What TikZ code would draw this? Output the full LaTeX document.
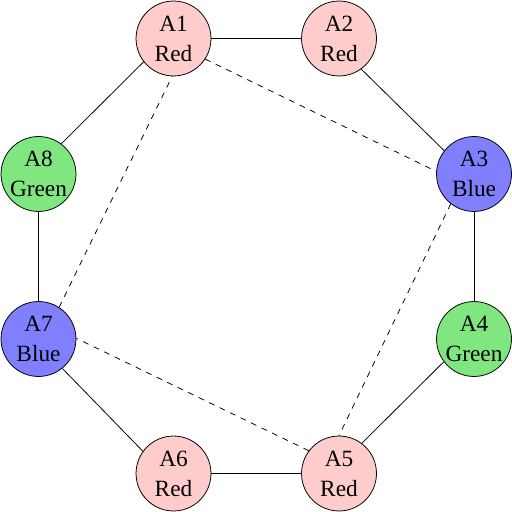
\documentclass[tikz,border=0pt]{standalone}
\usepackage{fontspec}
\setmainfont{Liberation Serif}
\definecolor{nodered}{RGB}{255,204,204}
\definecolor{nodegreen}{RGB}{128,230,128}
\definecolor{nodeblue}{RGB}{128,128,255}

\begin{document}
\begin{tikzpicture}[x=0.515pt,y=-0.515pt,
    vertex/.style={circle,draw,minimum size=38.6pt,inner sep=0pt,align=center,font=\fontsize{12}{15.5}\selectfont},
    red/.style={vertex,fill=nodered},
    green/.style={vertex,fill=nodegreen},
    blue/.style={vertex,fill=nodeblue}]
      \useasboundingbox (0,0) rectangle (512,512);
      \node[red]   (a1) at (173.5,38.5) {A1\\Red};
      \node[red]   (a2) at (339,38.5)   {A2\\Red};
      \node[blue]  (a3) at (474,174)    {A3\\Blue};
      \node[green] (a4) at (474,339)    {A4\\Green};
      \node[red]   (a5) at (339,473.5)  {A5\\Red};
      \node[red]   (a6) at (173.5,473.5) {A6\\Red};
      \node[blue]  (a7) at (38.5,339)   {A7\\Blue};
      \node[green] (a8) at (38.5,174)   {A8\\Green};
      % ring
      \draw (a1) -- (a2);
      \draw (a2.-54.5) -- (a3.142.5);
      \draw (a3) -- (a4);
      \draw (a4.217.7) -- (a5.53);
      \draw (a5) -- (a6);
      \draw (a6.144) -- (a7.-51.6);
      \draw (a7) -- (a8);
      \draw (a8.53) -- (a1.218);
      % square
      \draw[dashed] (a1.-33.5) -- (a3.176.5);
      \draw[dashed] (a3.232) -- (a5.90);
      \draw[dashed] (a5.143) -- (a7.1.5);
      \draw[dashed] (a7.57.7) -- (a1.268);
    \end{tikzpicture}
\end{document}
